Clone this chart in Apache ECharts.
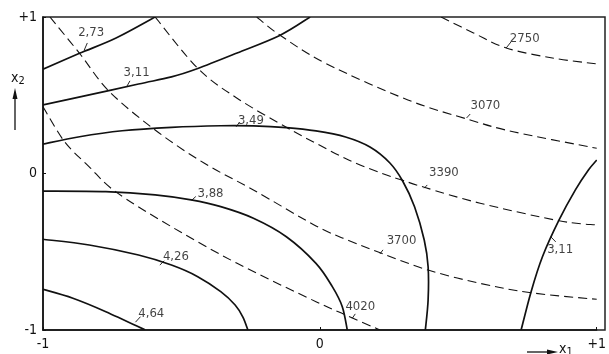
<!DOCTYPE html>
<html><head><meta charset="utf-8">
<script src="https://cdn.jsdelivr.net/npm/echarts@6/dist/echarts.min.js"></script>
<style>html,body{margin:0;padding:0;background:#fff}#c{width:609px;height:354px}</style>
</head><body><div id="c"></div>
<script>
// axis ticks
const xTicks = [-1, 0, 1];
const yTicks = [-1, 0, 1];

// solid contours (x1, x2)
const solid_273 = [[-1,0.666],[-0.868,0.768],[-0.738,0.864],[-0.595,1]];
const solid_311a = [[-1,0.438],[-0.833,0.502],[-0.655,0.572],[-0.536,0.617],[-0.441,0.671],[-0.299,0.770],[-0.145,0.882],[-0.035,1]];
const solid_349 = [[-1,0.188],[-0.868,0.235],[-0.714,0.273],[-0.536,0.295],[-0.358,0.305],[-0.240,0.304],[-0.121,0.293],[-0.014,0.272],[0.093,0.233],[0.181,0.169],[0.253,0.067],[0.299,-0.048],[0.342,-0.212],[0.377,-0.425],[0.391,-0.596],[0.391,-0.808],[0.381,-1]];
const solid_388 = [[-1,-0.112],[-0.773,-0.116],[-0.595,-0.137],[-0.465,-0.169],[-0.358,-0.212],[-0.240,-0.286],[-0.121,-0.404],[-0.014,-0.574],[0.045,-0.723],[0.081,-0.851],[0.099,-1]];
const solid_426 = [[-1,-0.420],[-0.833,-0.457],[-0.655,-0.521],[-0.536,-0.585],[-0.441,-0.659],[-0.358,-0.755],[-0.306,-0.840],[-0.278,-0.917],[-0.260,-1]];
const solid_464 = [[-1,-0.740],[-0.892,-0.797],[-0.773,-0.883],[-0.631,-1]];
const solid_311b = [[0.727,-1],[0.763,-0.755],[0.804,-0.532],[0.864,-0.297],[0.923,-0.105],[0.970,0.022],[1,0.086]];

// dashed contours
const dash_2750 = [[0.438,1],[0.555,0.898],[0.673,0.802],[0.840,0.738],[1,0.700]];
const dash_3070 = [[-0.228,1],[-0.145,0.885],[0.021,0.704],[0.318,0.470],[0.543,0.342],[0.698,0.267],[1,0.161]];
const dash_3390 = [[-0.595,1],[-0.441,0.672],[-0.299,0.481],[-0.121,0.295],[-0.014,0.193],[0.104,0.086],[0.223,0.001],[0.296,-0.042],[0.377,-0.088],[0.579,-0.190],[0.864,-0.302],[1,-0.329]];
const dash_3700 = [[-0.975,1],[-0.868,0.768],[-0.762,0.527],[-0.595,0.278],[-0.417,0.065],[-0.240,-0.105],[-0.014,-0.335],[0.104,-0.428],[0.223,-0.510],[0.391,-0.617],[0.579,-0.702],[0.763,-0.762],[1,-0.804]];
const dash_4020 = [[-1,0.427],[-0.922,0.203],[-0.833,0.043],[-0.738,-0.116],[-0.536,-0.340],[-0.299,-0.574],[-0.014,-0.819],[0.093,-0.904],[0.217,-1]];

// labels: text, label centre, leader start, leader end
const labelTexts = ['2,73','3,11','3,49','3,88','4,26','4,64','3,11','2750','3070','3390','3700','4020'];
const labelPos = [[-0.826,0.898],[-0.662,0.642],[-0.249,0.335],[-0.395,-0.131],[-0.520,-0.534],[-0.609,-0.898],[0.868,-0.489],[0.740,0.859],[0.598,0.431],[0.448,0.003],[0.295,-0.431],[0.146,-0.853]];
const leaderFrom = [[-0.851,0.789],[-0.698,0.554],[-0.302,0.299],[-0.463,-0.171],[-0.578,-0.585],[-0.666,-0.950],[0.834,-0.404],[0.673,0.802],[0.530,0.355],[0.377,-0.094],[0.217,-0.514],[0.117,-0.925]];
const leaderTo = [[-0.840,0.834],[-0.686,0.592],[-0.290,0.329],[-0.448,-0.147],[-0.562,-0.558],[-0.648,-0.915],[0.852,-0.437],[0.690,0.840],[0.543,0.380],[0.388,-0.073],[0.228,-0.488],[0.128,-0.897]];

const FONT = "'DejaVu Sans Condensed', 'Liberation Sans', sans-serif";
const curves = [solid_273, solid_311a, solid_349, solid_388, solid_426, solid_464, solid_311b,
                dash_2750, dash_3070, dash_3390, dash_3700, dash_4020];
const isDashed = [0,0,0,0,0,0,0,1,1,1,1,1];

// smooth curve through the (library-projected) points
function curvePath(pts) {
  let d = 'M' + pts[0][0] + ' ' + pts[0][1];
  for (let i = 0; i < pts.length - 1; i++) {
    const p0 = pts[Math.max(0, i - 1)], p1 = pts[i], p2 = pts[i + 1], p3 = pts[Math.min(pts.length - 1, i + 2)];
    const c1 = [p1[0] + (p2[0] - p0[0]) / 6, p1[1] + (p2[1] - p0[1]) / 6];
    const c2 = [p2[0] - (p3[0] - p1[0]) / 6, p2[1] - (p3[1] - p1[1]) / 6];
    d += ' C' + c1[0] + ' ' + c1[1] + ' ' + c2[0] + ' ' + c2[1] + ' ' + p2[0] + ' ' + p2[1];
  }
  return d;
}

const series = [];
series.push({
  type:'custom', silent:true, clip:true,
  data: curves.map((c, i) => [c[0][0], c[0][1], i]),
  encode:{x:0, y:1},
  renderItem:(params, api) => {
    const idx = api.value(2);
    const pts = curves[idx].map(p => api.coord(p));
    return {type:'path', shape:{pathData:curvePath(pts)},
      style:{fill:'none', stroke:'#111', lineWidth: isDashed[idx] ? 1.1 : 1.7,
             lineDash: isDashed[idx] ? [9,5] : null}};
  }
});
leaderFrom.forEach((p,i) => series.push({type:'line', data:[p, leaderTo[i]], symbol:'none', silent:true,
  lineStyle:{color:'#111', width:0.9}}));
series.push({type:'scatter', symbolSize:0, silent:true,
  data: labelPos.map((p,i) => [p[0], p[1], labelTexts[i]]),
  label:{show:true, position:'inside', formatter:p => p.data[2], color:'#111', fontFamily:FONT, fontSize:13}});

const chart = echarts.init(document.getElementById('c'));
chart.setOption({
  animation:false,
  grid:{left:43, right:4, top:17, bottom:24, containLabel:false},
  xAxis:{type:'value', min:-1, max:1, interval:1,
    axisLine:{show:true, onZero:false, lineStyle:{color:'#111', width:1.5}},
    axisTick:{show:true, inside:true, length:3, lineStyle:{color:'#111'}},
    splitLine:{show:false},
    axisLabel:{margin:7, color:'#111', fontFamily:FONT, fontSize:14,
      formatter:v => xTicks.includes(v) ? (v>0?'+'+v:String(v)) : ''}},
  yAxis:{type:'value', min:-1, max:1, interval:1,
    axisLine:{show:true, onZero:false, lineStyle:{color:'#111', width:1.5}},
    axisTick:{show:true, inside:true, length:3, lineStyle:{color:'#111'}},
    splitLine:{show:false},
    axisLabel:{margin:6, color:'#111', fontFamily:FONT, fontSize:14,
      formatter:v => yTicks.includes(v) ? (v>0?'+'+v:String(v)) : ''}},
  graphic:[
    {type:'rect', shape:{x:43, y:17, width:562, height:313}, style:{fill:'none', stroke:'#222', lineWidth:1.5}, silent:true},
    {type:'text', left:11, top:71, style:{text:'x{s|2}', fill:'#111', font:'14px '+FONT, rich:{s:{fontSize:11, fontFamily:FONT, fill:'#111', padding:[6,0,0,0]}}}},
    {type:'line', shape:{x1:15, y1:130, x2:15, y2:96}, style:{stroke:'#111', lineWidth:1.3}},
    {type:'polygon', shape:{points:[[15,88],[12.5,99],[17.5,99]]}, style:{fill:'#111'}},
    {type:'line', shape:{x1:527, y1:352, x2:550, y2:352}, style:{stroke:'#111', lineWidth:1.3}},
    {type:'polygon', shape:{points:[[558,352],[547,349.5],[547,354.5]]}, style:{fill:'#111'}},
    {type:'text', left:559, top:342, style:{text:'x{s|1}', fill:'#111', font:'14px '+FONT, rich:{s:{fontSize:11, fontFamily:FONT, fill:'#111', padding:[6,0,0,0]}}}}
  ],
  series: series
});
</script></body></html>
